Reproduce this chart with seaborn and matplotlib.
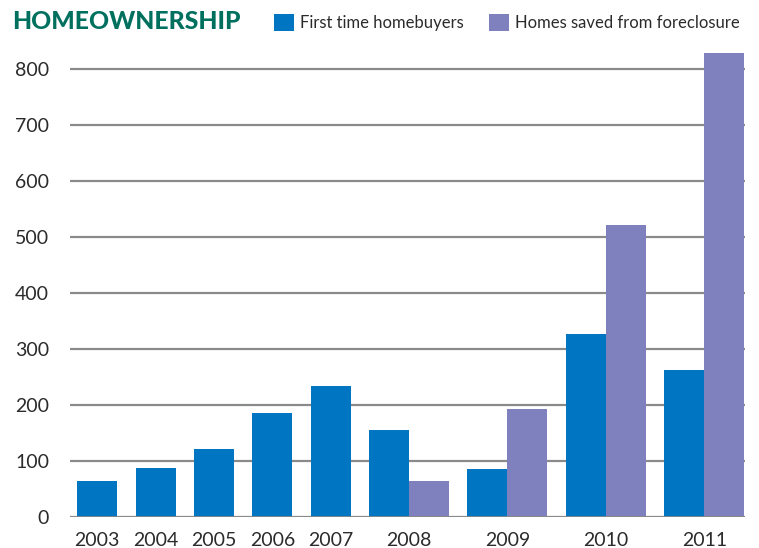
import pandas as pd
import matplotlib.pyplot as plt
import seaborn as sns
from matplotlib.patches import Patch

# Data
years = ['2003', '2004', '2005', '2006', '2007', '2008', '2009', '2010', '2011']
first_time = [64, 88, 121, 186, 234, 155, 86, 327, 262]
saved = [None, None, None, None, None, 64, 193, 521, 829]

series_names = ['First time homebuyers', 'Homes saved from foreclosure']
colors = ['#0075c1', '#7f81bf']
title_color = '#00705e'

# Build bar positions: one unit per bar, small gap between year groups
gap = 0.46
rows = []
group_centers = []
cursor = 0.0
for year, a, b in zip(years, first_time, saved):
    vals = [(series_names[0], a)]
    if b is not None:
        vals.append((series_names[1], b))
    for i, (name, v) in enumerate(vals):
        rows.append({'x': cursor + i + 0.5, 'value': v, 'series': name})
    group_centers.append(cursor + len(vals) / 2)
    cursor += len(vals) + gap
df = pd.DataFrame(rows)
x_end = cursor - gap

sns.set_theme(style='white')
plt.rcParams['font.family'] = ['Lato', 'DejaVu Sans']

fig = plt.figure(figsize=(7.59, 5.48), dpi=100)
ax = fig.add_axes([70 / 759, 1 - 517 / 548, 675 / 759, 465 / 548])

sns.barplot(
    data=df, x='x', y='value', hue='series',
    native_scale=True, width=1, dodge=False,
    palette=dict(zip(series_names, colors)),
    saturation=1, linewidth=0, legend=False, ax=ax, zorder=3,
)

ax.set_xlim(-0.18, x_end + 0.02)
ax.set_ylim(0, 830)
ax.set_yticks(range(0, 900, 100))
ax.set_xticks(group_centers)
ax.set_xticklabels(years)
ax.set_xlabel('')
ax.set_ylabel('')

ax.grid(axis='y', color='#8a8a8a', linewidth=1.6, zorder=0)
ax.grid(axis='x', visible=False)
for s in ['left', 'right', 'top', 'bottom']:
    ax.spines[s].set_visible(False)
ax.axhline(0, color='#8a8a8a', linewidth=2, zorder=4)

ax.tick_params(axis='y', length=0, pad=15, labelsize=14, labelcolor='#2b2b2b')
ax.tick_params(axis='x', length=0, pad=11, labelsize=14, labelcolor='#2b2b2b')

fig.text(12 / 759, 1 - 29 / 548, 'HOMEOWNERSHIP', color=title_color,
         fontsize=17.8, fontweight='black', va='baseline', ha='left')

handles = [Patch(facecolor=c, edgecolor='none') for c in colors]
fig.legend(handles, series_names, loc='upper right',
           bbox_to_anchor=(746 / 759, 1 - 7 / 548), ncol=2, frameon=False,
           fontsize=12, handlelength=1.2, handleheight=1.2,
           handletextpad=0.35, columnspacing=1.5, borderaxespad=0,
           labelcolor='#2b2b2b')

fig.savefig('out.png', dpi=100)
